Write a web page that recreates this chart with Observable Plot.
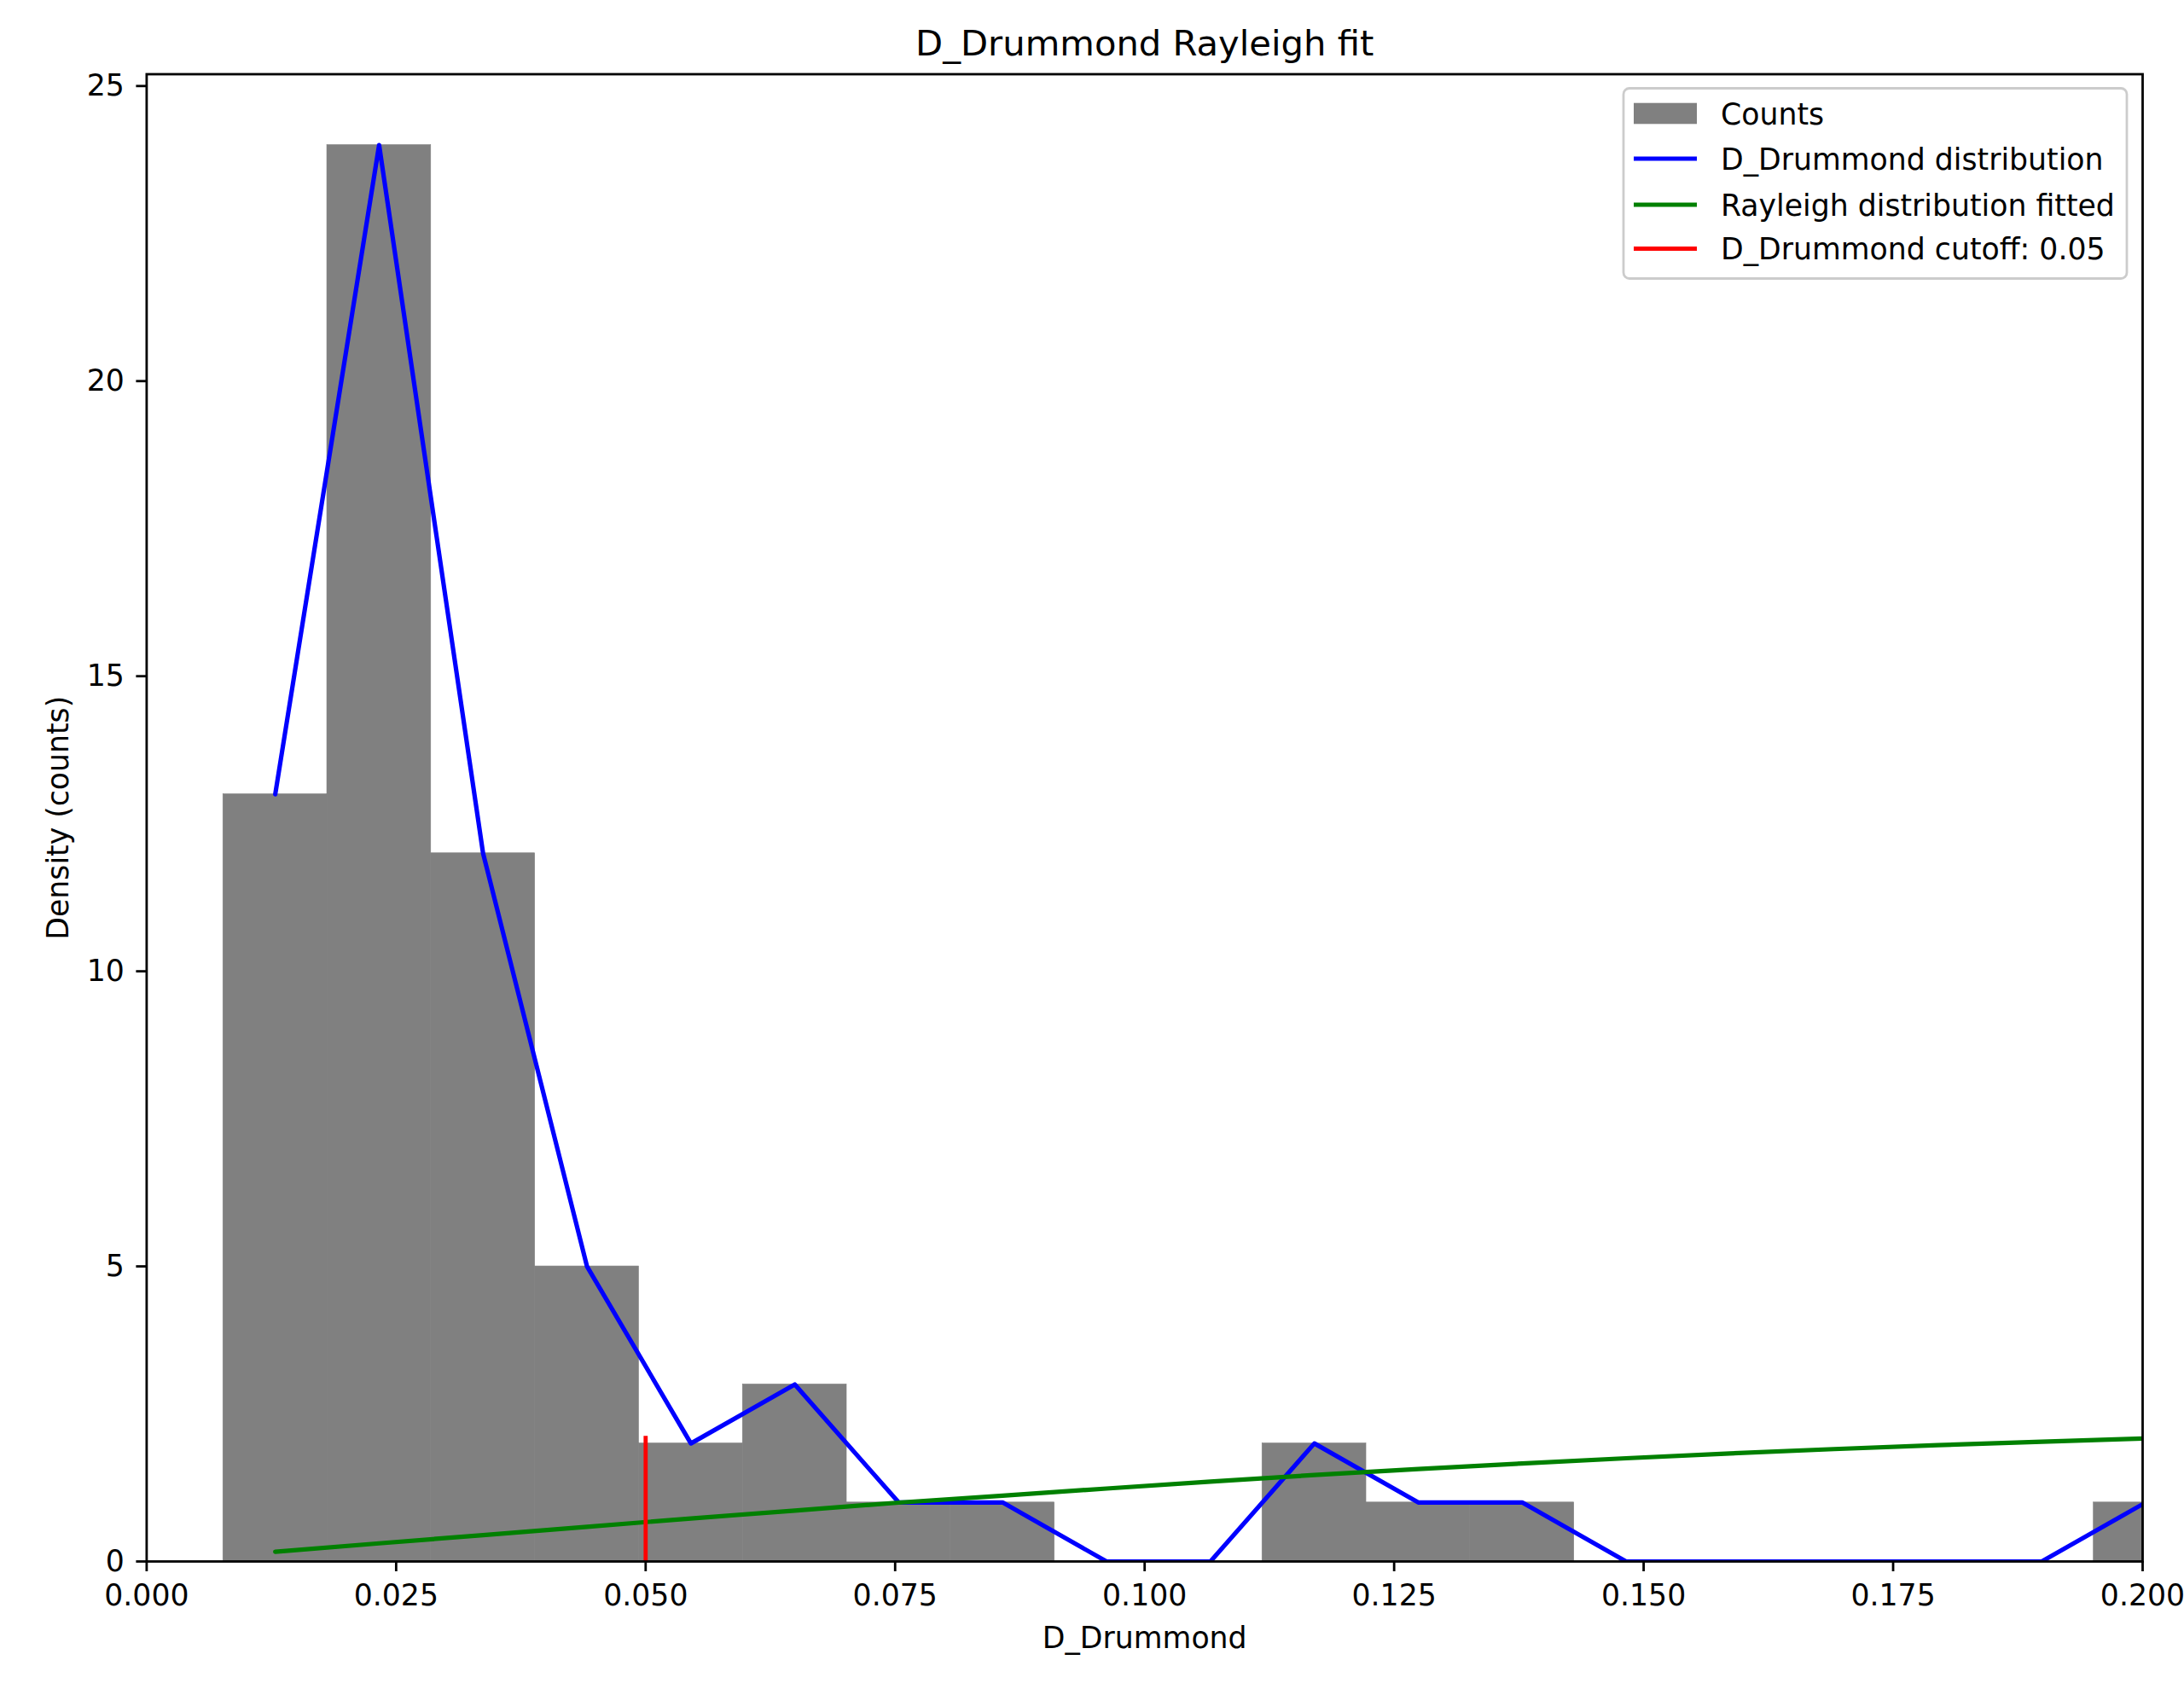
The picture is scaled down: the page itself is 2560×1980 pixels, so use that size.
<!DOCTYPE html>
<html>
<head>
<meta charset="utf-8">
<script src="https://cdn.jsdelivr.net/npm/d3@7"></script>
<script src="https://cdn.jsdelivr.net/npm/@observablehq/plot@0.6"></script>
<style>
  html, body { margin: 0; padding: 0; background: white; }
  #chart svg { display: block; }
</style>
</head>
<body>
<div id="chart"></div>
<script>
// ---- data ----
const binEdges = [0.00768, 0.01809, 0.02850, 0.03892, 0.04933, 0.05974, 0.07015, 0.08056, 0.09098, 0.10139,
                  0.11180, 0.12221, 0.13262, 0.14304, 0.15345, 0.16386, 0.17427, 0.18468, 0.19510, 0.20551];
const counts = [13, 24, 12, 5, 2, 3, 1, 1, 0, 0, 2, 1, 1, 0, 0, 0, 0, 0, 1];
const rayleighFit = [0.165, 0.307, 0.447, 0.588, 0.729, 0.863, 0.997, 1.116, 1.236, 1.354,
                     1.465, 1.566, 1.661, 1.749, 1.830, 1.904, 1.971, 2.030, 2.084];
const cutoffValue = [0.05];
const cutoffTop = [2.12];
const xTicks = [0, 0.025, 0.05, 0.075, 0.1, 0.125, 0.15, 0.175, 0.2];
const yTicks = [0, 5, 10, 15, 20, 25];
const titleText = ["D_Drummond Rayleigh fit"];
const xLabel = ["D_Drummond"];
const yLabel = ["Density (counts)"];
const legendLabels = ["Counts", "D_Drummond distribution", "Rayleigh distribution fitted", "D_Drummond cutoff: 0.05"];
const legendColors = ["#808080", "blue", "green", "red"];

// ---- tables built from the arrays ----
const bars = counts.map((c, i) => ({x1: binEdges[i], x2: binEdges[i + 1], y: c}));
const centers = counts.map((c, i) => (binEdges[i] + binEdges[i + 1]) / 2);
const distLine = counts.map((c, i) => ({x: centers[i], y: c}));
const fitLine = rayleighFit.map((v, i) => ({x: centers[i], y: v}));
const cutoffRule = cutoffValue.map((v, i) => ({x: v, y2: cutoffTop[i]}));

const FS = 34.7;
const LW = 5.2;

const chart = Plot.plot({
  width: 2560,
  height: 1980,
  marginLeft: 171.4,
  marginRight: 49,
  marginTop: 86.5,
  marginBottom: 150,
  style: {background: "white", color: "black", fontFamily: "DejaVu Sans", fontSize: FS + "px", overflow: "visible", maxWidth: "none"},
  x: {domain: [0, 0.2]},
  y: {domain: [0, 25.2]},
  marks: [
    Plot.rectY(bars, {x1: "x1", x2: "x2", y: "y", fill: "#808080", stroke: "#808080", strokeWidth: 0.6, clip: true}),
    Plot.line(distLine, {x: "x", y: "y", stroke: "blue", strokeWidth: LW, clip: true}),
    Plot.line(fitLine, {x: "x", y: "y", stroke: "green", strokeWidth: LW, clip: true}),
    Plot.ruleX(cutoffRule, {x: "x", y1: 0, y2: "y2", stroke: "red", strokeWidth: 4.8}),
    Plot.frame({stroke: "black", strokeWidth: 2.8}),
    Plot.axisX(xTicks, {tickSize: 12, tickPadding: 15, strokeWidth: 2.8, tickFormat: d3.format(".3f"), label: null, fontSize: FS}),
    Plot.axisY(yTicks, {tickSize: 12, tickPadding: 14, strokeWidth: 2.8, tickFormat: d3.format("d"), label: null, fontSize: FS}),
    Plot.text(titleText, {frameAnchor: "top", lineAnchor: "middle", textAnchor: "middle", dy: -35, text: d => d, fontSize: 41.7, fill: "black"}),
    Plot.text(xLabel, {frameAnchor: "bottom", lineAnchor: "middle", textAnchor: "middle", dy: 90, text: d => d, fontSize: FS, fill: "black"}),
    Plot.text(yLabel, {frameAnchor: "left", lineAnchor: "middle", textAnchor: "middle", dx: -103, rotate: -90, text: d => d, fontSize: FS, fill: "black"})
  ]
});

document.getElementById("chart").appendChild(chart);

// ---- legend ----
const svg = d3.select(chart);
const lg = svg.append("g").attr("font-family", "DejaVu Sans").attr("font-size", FS).attr("text-anchor", "start");
lg.append("rect")
  .attr("x", 1903).attr("y", 103.5).attr("width", 590).attr("height", 223)
  .attr("rx", 7).attr("ry", 7)
  .attr("fill", "white").attr("fill-opacity", 0.8)
  .attr("stroke", "#cccccc").attr("stroke-width", 2.8);
const rowCenters = [133, 186, 240, 291.5];
legendLabels.forEach((lab, i) => {
  const cy = rowCenters[i];
  if (i === 0) {
    lg.append("rect").attr("x", 1915).attr("y", cy - 12.3).attr("width", 74).attr("height", 24.6).attr("fill", legendColors[i]);
  } else {
    lg.append("line").attr("x1", 1915).attr("x2", 1989).attr("y1", cy).attr("y2", cy)
      .attr("stroke", legendColors[i]).attr("stroke-width", LW);
  }
  lg.append("text").attr("x", 2017).attr("y", cy + 12.8).attr("fill", "black").attr("text-anchor", "start").text(lab);
});
</script>
</body>
</html>
